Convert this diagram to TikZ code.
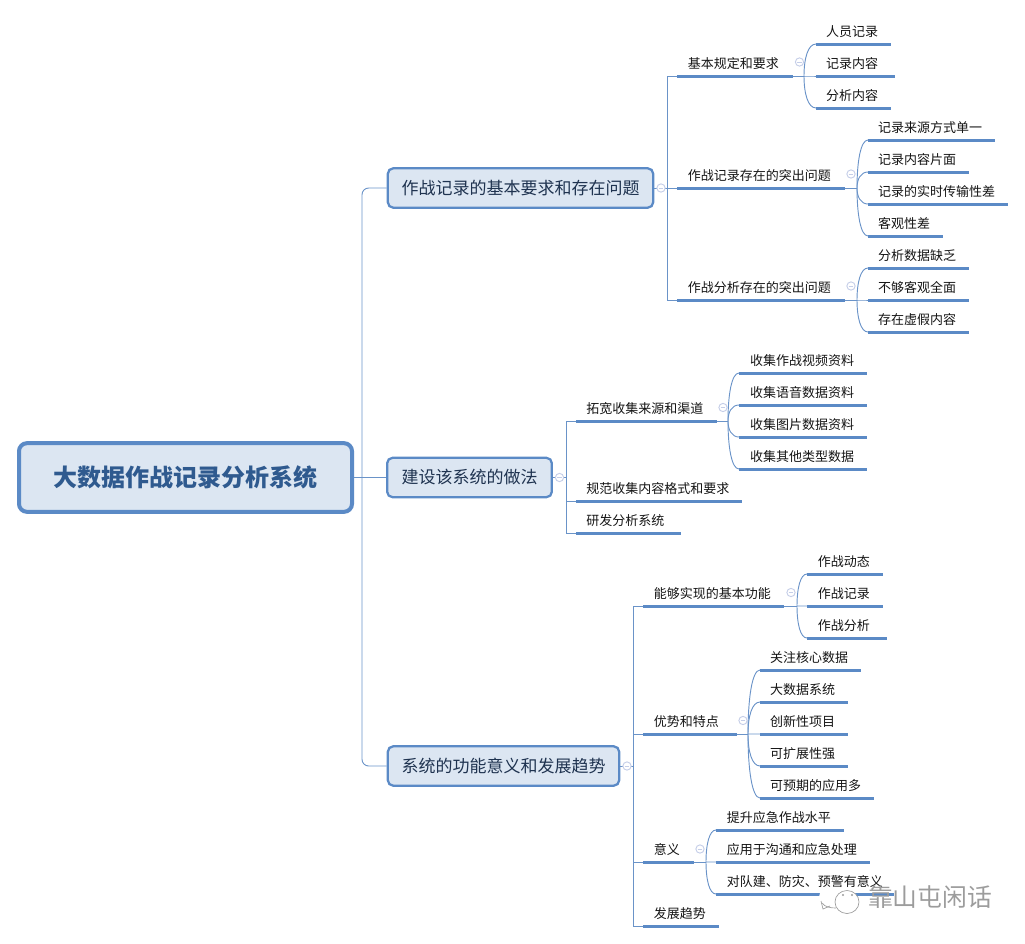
\documentclass[tikz,border=0pt]{standalone}
\usepackage{fontspec}
\usetikzlibrary{calc}
\setmainfont{Noto Sans CJK SC}
\definecolor{linec}{HTML}{5B8AC6}
\definecolor{thinc}{HTML}{6A93C8}
\definecolor{boxfill}{HTML}{DCE6F2}
\definecolor{rootink}{HTML}{2F5A8F}
\definecolor{midink}{HTML}{1F3350}
\definecolor{btn}{HTML}{C5CEE8}
\definecolor{wm}{HTML}{9C9C9C}
\tikzset{
  rootbox/.style={draw=linec,fill=boxfill,line width=3pt,rounded corners=6pt,minimum width=249.75pt,minimum height=51.5pt,inner sep=0pt,text=rootink,font=\fontsize{18}{18}\selectfont\bfseries},
  midbox/.style={draw=linec,fill=boxfill,line width=1.7pt,rounded corners=4pt,minimum height=29.5pt,inner sep=0pt,text=midink,font=\fontsize{12.75}{13}\selectfont},
  leafbox/.style={inner sep=0pt,minimum height=18pt,anchor=south west,text=black!92,font=\fontsize{9.75}{10}\selectfont},
  underl/.style={draw=linec,line width=2.25pt},
  conn/.style={draw=thinc,line width=0.7pt},
  colbtn/.style={circle,draw=btn,fill=white,line width=0.7pt,minimum size=6.2pt,inner sep=0pt},
  colminus/.style={draw=btn,line width=0.6pt},
  wmline/.style={draw=wm,line width=0.5pt,fill=white},
  wmtext/.style={text=wm,inner sep=0pt,font=\fontsize{18.6}{19}\selectfont}
}
\def\lfx{8pt}
% name, x1, x2, underline y, text
\newcommand\lf[5]{%
  \pgfmathsetmacro\lfw{(#3-#2)*0.75}%
  \node[leafbox] (#1) at (#2,#4) {\makebox[\lfw pt][l]{\hspace{\lfx}#5}};
  \draw[underl] (#1.south west) -- (#1.south east);
}
% name, x, y of the collapse button
\newcommand\col[3]{%
  \node[colbtn] (#1) at (#2,#3) {};
  \draw[colminus] ([xshift=-1.8pt]#1.center) -- ([xshift=1.8pt]#1.center);
}
% branch coordinate to leaf: curve
\newcommand\cur[2]{%
  \draw[conn] (#1) .. controls ($(#1)!0.55!(#1 |- #2.south west)$) and ($(#1 |- #2.south west)!0.33!(#2.south west)$) .. (#2.south west);
}
\newcommand\stem[2]{%
  \draw[conn] (#1) |- (#2.south west);
}
\begin{document}
\begin{tikzpicture}[x=0.75pt,y=-0.75pt]
\useasboundingbox (0,0) rectangle (1025,943);

% ---- nodes
\node[rootbox] (root) at (185.5,477.5) {大数据作战记录分析系统};
\node[midbox,minimum width=199pt] (a) at (520.5,188) {作战记录的基本要求和存在问题};
\node[midbox,minimum width=123.5pt] (b) at (469.5,477.5) {建设该系统的做法};
\node[midbox,minimum width=173.5pt] (c) at (503.5,766) {系统的功能意义和发展趋势};

\coordinate (t0) at (362,477.5);
\coordinate (ta) at (667,188);
\coordinate (tb) at (566,477.5);
\coordinate (tc) at (633,766);
\coordinate (ba1) at (804,76);
\coordinate (ba2) at (857,188);
\coordinate (ba3) at (857,300);
\coordinate (bb1) at (728,421);
\coordinate (bc1) at (797,606);
\coordinate (bc2) at (748,734);
\coordinate (bc3) at (706,862);

% ---- root connectors
\draw[conn] (root.east) -- (b.west);
\draw[conn,rounded corners=5pt] (t0) |- (a.west);
\draw[conn,rounded corners=5pt] (t0) |- (c.west);
\draw[conn] (a.east) -- (ta);
\draw[conn] (b.east) -- (tb);
\draw[conn] (c.east) -- (tc);

% ---- branch A
\lf{a1}{677}{792}{76}{基本规定和要求}
\lf{a2}{677}{844}{188}{作战记录存在的突出问题}
\lf{a3}{677}{844}{300}{作战分析存在的突出问题}
\def\lfx{7.4pt}
\lf{a1a}{816}{890}{44}{人员记录}
\lf{a1b}{816}{894}{76}{记录内容}
\lf{a1c}{816}{890}{108}{分析内容}
\lf{a2a}{868}{994}{140}{记录来源方式单一}
\lf{a2b}{868}{968}{172}{记录内容片面}
\lf{a2c}{868}{1007}{204}{记录的实时传输性差}
\lf{a2d}{868}{942}{236}{客观性差}
\lf{a3a}{868}{968}{268}{分析数据缺乏}
\lf{a3b}{868}{968}{300}{不够客观全面}
\lf{a3c}{868}{968}{332}{存在虚假内容}
\def\lfx{7.6pt}
\stem{ta}{a1}\stem{ta}{a2}\stem{ta}{a3}
\draw[conn] (a1.south east) -- (ba1);
\draw[conn] (a2.south east) -- (ba2);
\draw[conn] (a3.south east) -- (ba3);
\cur{ba1}{a1a}\cur{ba1}{a1b}\cur{ba1}{a1c}
\cur{ba2}{a2a}\cur{ba2}{a2b}\cur{ba2}{a2c}\cur{ba2}{a2d}
\cur{ba3}{a3a}\cur{ba3}{a3b}\cur{ba3}{a3c}

% ---- branch B
\lf{b1}{576}{716}{421}{拓宽收集来源和渠道}
\lf{b2}{576}{741}{501}{规范收集内容格式和要求}
\lf{b3}{576}{680}{533}{研发分析系统}
\def\lfx{8.2pt}
\lf{b1a}{739}{866}{373}{收集作战视频资料}
\lf{b1b}{739}{866}{405}{收集语音数据资料}
\lf{b1c}{739}{866}{437}{收集图片数据资料}
\lf{b1d}{739}{866}{469}{收集其他类型数据}
\stem{tb}{b1}\stem{tb}{b2}\stem{tb}{b3}
\draw[conn] (b1.south east) -- (bb1);
\cur{bb1}{b1a}\cur{bb1}{b1b}\cur{bb1}{b1c}\cur{bb1}{b1d}

% ---- branch C
\def\lfx{8pt}
\lf{c1}{643}{783}{606}{能够实现的基本功能}
\lf{c2}{643}{736}{734}{优势和特点}
\lf{c3}{643}{693}{862}{意义}
\lf{c4}{643}{718}{926}{发展趋势}
\lf{c1a}{807}{882}{574}{作战动态}
\lf{c1b}{807}{882}{606}{作战记录}
\lf{c1c}{807}{886}{638}{作战分析}
\def\lfx{7.4pt}
\lf{c2a}{760}{860}{670}{关注核心数据}
\lf{c2b}{760}{847}{702}{大数据系统}
\lf{c2c}{760}{847}{734}{创新性项目}
\lf{c2d}{760}{847}{766}{可扩展性强}
\lf{c2e}{760}{873}{798}{可预期的应用多}
\def\lfx{8pt}
\lf{c3a}{716}{843}{830}{提升应急作战水平}
\lf{c3b}{716}{869}{862}{应用于沟通和应急处理}
\lf{c3c}{716}{893}{894}{对队建、防灾、预警有意义}
\stem{tc}{c1}\stem{tc}{c2}\stem{tc}{c3}\stem{tc}{c4}
\draw[conn] (c1.south east) -- (bc1);
\draw[conn] (c2.south east) -- (bc2);
\draw[conn] (c3.south east) -- (bc3);
\cur{bc1}{c1a}\cur{bc1}{c1b}\cur{bc1}{c1c}
\cur{bc2}{c2a}\cur{bc2}{c2b}\cur{bc2}{c2c}\cur{bc2}{c2d}\cur{bc2}{c2e}
\cur{bc3}{c3a}\cur{bc3}{c3b}\cur{bc3}{c3c}

% ---- collapse buttons
\col{ca}{661}{188}
\col{cb}{559.5}{477.5}
\col{cc}{627}{766}
\col{ca1}{799.5}{62}
\col{ca2}{851}{174}
\col{ca3}{851}{286}
\col{cb1}{723}{407.5}
\col{cc1}{791}{592.5}
\col{cc2}{743}{720.5}
\col{cc3}{700}{849}

% ---- watermark: two speech bubbles and the name
\fill[white] (832,897) ellipse [x radius=13,y radius=10.5];
\draw[wm,line width=0.5pt] (821,901) -- (823,909) -- (830,906);
\draw[wm,line width=0.5pt] (822,903) .. controls (825,907) and (830,908) .. (836,908);
\draw[wmline] (847,902) ellipse [x radius=12,y radius=11.5];
\fill[wm] (843,895) circle [radius=1.1];
\fill[wm] (852,895) circle [radius=1.1];
\node[wmtext] (wm) at (930,897) {靠山屯闲话};
\end{tikzpicture}
\end{document}
